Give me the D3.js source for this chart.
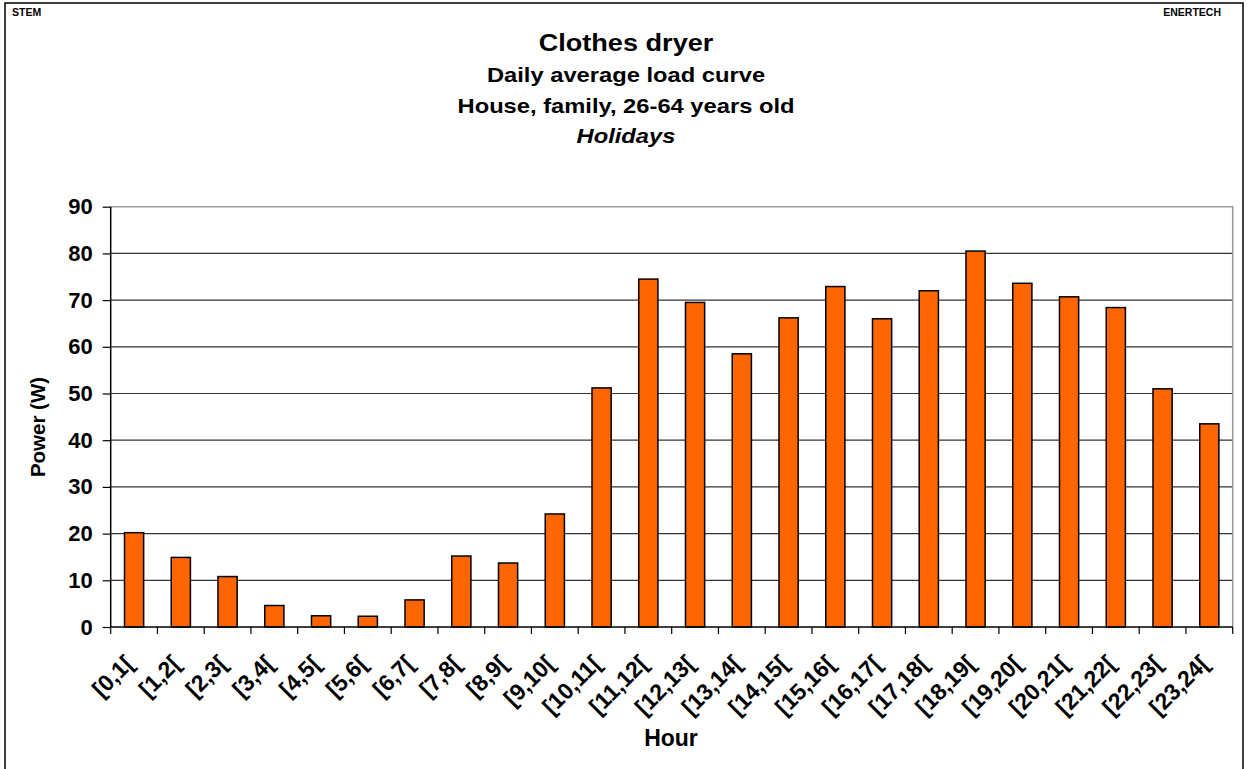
<!DOCTYPE html>
<html><head><meta charset="utf-8">
<script src="https://cdn.jsdelivr.net/npm/d3@7"></script>
<style>
html,body{margin:0;padding:0;background:#fff;}
svg{display:block;font-family:Arial,"Liberation Sans",sans-serif;}
</style></head>
<body>
<svg id="chart" width="1247" height="769"></svg>
<script>
const categories = ["[0,1[","[1,2[","[2,3[","[3,4[","[4,5[","[5,6[","[6,7[","[7,8[","[8,9[","[9,10[","[10,11[","[11,12[","[12,13[","[13,14[","[14,15[","[15,16[","[16,17[","[17,18[","[18,19[","[19,20[","[20,21[","[21,22[","[22,23[","[23,24["];
const power = [20.2,14.9,10.8,4.6,2.4,2.3,5.8,15.2,13.7,24.2,51.2,74.5,69.5,58.5,66.2,72.9,66.0,72.0,80.5,73.6,70.7,68.4,51.0,43.5];
const yTicks = [0,10,20,30,40,50,60,70,80,90];
const titles = ["Clothes dryer","Daily average load curve","House, family, 26-64 years old","Holidays"];

(function(){
const svg = d3.select("#chart");
const pL = 110.7, pR = 1232.7, pT = 206.7, pB = 627;

// outer frame
svg.append("rect").attr("x",5).attr("y",3).attr("width",1238).attr("height",800)
  .attr("fill","none").attr("stroke","#000").attr("stroke-width",1.5);

svg.append("text").attr("x",12).attr("y",16).attr("font-size",10.5).attr("font-weight","bold").text("STEM");
svg.append("text").attr("x",1221).attr("y",16).attr("text-anchor","end").attr("font-size",10.5).attr("font-weight","bold").text("ENERTECH");

const tY = [51,82,113,143], tS = [24,21,21,21];
titles.forEach((t,i)=>{
  svg.append("text").attr("transform",`translate(626,${tY[i]}) scale(1.13,1)`)
    .attr("text-anchor","middle").attr("font-size",tS[i]).attr("font-weight","bold")
    .attr("font-style", i===3 ? "italic" : "normal").text(t);
});

const x = d3.scaleBand().domain(categories).range([pL,pR]).padding(0);
const y = d3.scaleLinear().domain([0,90]).range([pB,pT]);

// gridlines
svg.append("g").selectAll("line").data(yTicks.filter(d=>d>0 && d<90)).join("line")
  .attr("x1",pL).attr("x2",pR).attr("y1",d=>y(d)).attr("y2",d=>y(d))
  .attr("stroke","#333").attr("stroke-width",1.2);
// plot frame top/right
svg.append("path").attr("d",`M${pL},${y(90)}H${pR}V${pB}`)
  .attr("fill","none").attr("stroke","#999").attr("stroke-width",1.5);

// bars
const bw = x.bandwidth()*0.41;
svg.append("g").selectAll("rect").data(power).join("rect")
  .attr("x",(d,i)=>x(categories[i])+x.bandwidth()/2-bw/2)
  .attr("y",d=>y(d)).attr("width",bw).attr("height",d=>y(0)-y(d))
  .attr("fill","#FF6600").attr("stroke","#000").attr("stroke-width",1.5);

// y axis
const yAxis = d3.axisLeft(y).tickValues(yTicks).tickSize(8).tickPadding(10).tickFormat(d3.format("d"));
const gy = svg.append("g").attr("transform",`translate(${pL},0)`).call(yAxis);
gy.select(".domain").attr("stroke","#000").attr("stroke-width",1.5).attr("d",`M0,${pT}V${pB}`);
gy.selectAll(".tick line").attr("stroke","#000").attr("stroke-width",1.2);
gy.selectAll("text").attr("font-size",22).attr("font-weight","bold").attr("fill","#000")
  .attr("font-family","Arial,'Liberation Sans',sans-serif");

// x axis
const xAxis = d3.axisBottom(x).tickSize(0).tickPadding(0);
const gx = svg.append("g").attr("transform",`translate(0,${pB})`).call(xAxis);
gx.select(".domain").attr("stroke","#000").attr("stroke-width",1.5).attr("d",`M${pL},0H${pR}`);
gx.selectAll(".tick text").attr("font-size",23).attr("font-weight","bold").attr("fill","#000")
  .attr("font-family","Arial,'Liberation Sans',sans-serif")
  .attr("text-anchor","end").attr("dy",0).attr("y",0)
  .attr("transform","translate(1,38) rotate(-45)");
// boundary ticks
const bounds = categories.map(c=>x(c)).concat([pR]);
svg.append("g").selectAll("line").data(bounds).join("line")
  .attr("x1",d=>d).attr("x2",d=>d).attr("y1",pB).attr("y2",pB+7)
  .attr("stroke","#000").attr("stroke-width",1.2);

// axis titles
svg.append("text").attr("x",671).attr("y",746).attr("text-anchor","middle")
  .attr("font-size",23).attr("font-weight","bold").text("Hour");
svg.append("text").attr("transform","translate(45,427) rotate(-90)").attr("text-anchor","middle")
  .attr("font-size",20.5).attr("font-weight","bold").text("Power (W)");
})();
</script>
</body></html>
